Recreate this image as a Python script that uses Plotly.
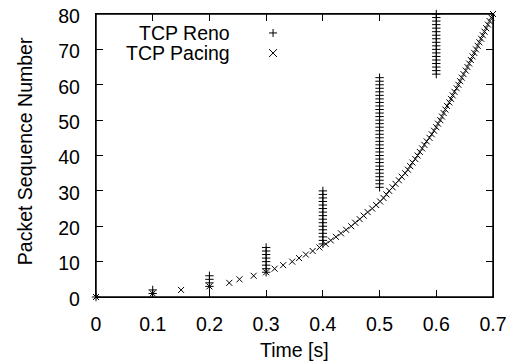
import plotly.graph_objects as go

# ---- data ----
# TCP Reno: bursts sent at each RTT (time, first seq, last seq visible)
reno_burst_time = [0.0, 0.1, 0.2, 0.3, 0.4, 0.5, 0.6]
reno_burst_first = [0, 1, 3, 7, 15, 31, 63]
reno_burst_last = [0, 2, 6, 14, 30, 62, 80]

# TCP Pacing: send time of each packet (packet seq = index)
pacing_seq = list(range(0, 81))
pacing_time = [
    0.000, 0.100, 0.150, 0.200, 0.235, 0.253, 0.278, 0.300,
    0.315, 0.330, 0.346, 0.358, 0.370, 0.382, 0.394, 0.405,
    0.414, 0.423, 0.432, 0.441, 0.450, 0.457, 0.465, 0.472,
    0.479, 0.487, 0.494, 0.501, 0.507, 0.512, 0.517, 0.523,
    0.528, 0.534, 0.539, 0.545, 0.550, 0.554, 0.558, 0.563,
    0.567, 0.571, 0.575, 0.579, 0.583, 0.588, 0.592, 0.596,
    0.600, 0.603, 0.607, 0.610, 0.613, 0.616, 0.619, 0.623,
    0.626, 0.629, 0.632, 0.636, 0.639, 0.642, 0.645, 0.648,
    0.652, 0.655, 0.658, 0.661, 0.664, 0.667, 0.670, 0.673,
    0.676, 0.679, 0.682, 0.685, 0.688, 0.691, 0.694, 0.697,
    0.700,
]

x_ticks = [0, 0.1, 0.2, 0.3, 0.4, 0.5, 0.6, 0.7]
x_tick_labels = ["0", "0.1", "0.2", "0.3", "0.4", "0.5", "0.6", "0.7"]
y_ticks = [0, 10, 20, 30, 40, 50, 60, 70, 80]

reno_x, reno_y = [], []
for t, a, b in zip(reno_burst_time, reno_burst_first, reno_burst_last):
    for s in range(a, b + 1):
        reno_x.append(t)
        reno_y.append(s)

FONT = "Liberation Sans, Arial, Helvetica, sans-serif"
FS = 19.5

fig = go.Figure()
fig.add_trace(go.Scatter(
    x=reno_x, y=reno_y, mode="markers", name="TCP Reno",
    marker=dict(symbol="cross-thin", size=6, color="black",
                line=dict(color="black", width=1)),
    cliponaxis=False,
))
fig.add_trace(go.Scatter(
    x=pacing_time, y=pacing_seq, mode="markers", name="TCP Pacing",
    marker=dict(symbol="x-thin", size=6, color="black",
                line=dict(color="black", width=1)),
    cliponaxis=False,
))

axis_common = dict(
    showline=True, linecolor="black", linewidth=1.3, mirror="ticks",
    ticks="inside", ticklen=7, tickwidth=1.3, tickcolor="black",
    showgrid=False, zeroline=False, automargin=False,
    ticklabeloverflow="allow",
    tickfont=dict(family=FONT, size=FS, color="black"),
)

fig.update_xaxes(range=[0, 0.7], tickvals=x_ticks, ticktext=x_tick_labels,
                 ticklabelstandoff=9, **axis_common)
fig.update_yaxes(range=[0, 80], tickvals=y_ticks,
                 ticklabelstandoff=11, ticklabelshift=2, **axis_common)

annotations = [
    dict(text="Time [s]", xref="paper", yref="paper", x=0.5, y=-0.187,
         xanchor="center", yanchor="middle", showarrow=False,
         font=dict(family=FONT, size=FS, color="black")),
    dict(text="Packet Sequence Number", xref="paper", yref="paper", x=-0.179, y=0.515,
         xanchor="center", yanchor="middle", showarrow=False, textangle=-90,
         font=dict(family=FONT, size=FS, color="black")),
]
# plot frame (gnuplot border)
shapes = [dict(type="rect", xref="paper", yref="paper", x0=0, x1=1, y0=0, y1=1,
               line=dict(color="black", width=1.5), layer="above")]

# gnuplot-style key: text right-aligned, sample to the right
key_rows = [("TCP Reno", "M-4,0H4M0,-4V4", 0.933), ("TCP Pacing", "M-4,-4L4,4M-4,4L4,-4", 0.862)]
for label, path, yp in key_rows:
    annotations.append(dict(text=label, xref="paper", yref="paper", x=0.343, y=yp,
                            xanchor="right", yanchor="middle", showarrow=False,
                            font=dict(family=FONT, size=FS, color="black")))
    shapes.append(dict(type="path", xref="paper", yref="paper", xsizemode="pixel", ysizemode="pixel",
                       xanchor=0.446, yanchor=yp, path=path,
                       line=dict(color="black", width=1)))

# page body has an 8px default margin; place the plot area to match the window
fig.update_layout(
    width=512, height=355,
    margin=dict(l=88, r=27, t=6, b=66, autoexpand=False),
    paper_bgcolor="white", plot_bgcolor="white",
    showlegend=False,
    annotations=annotations, shapes=shapes,
    font=dict(family=FONT, size=FS, color="black"),
)

fig.write_html("out.html")
